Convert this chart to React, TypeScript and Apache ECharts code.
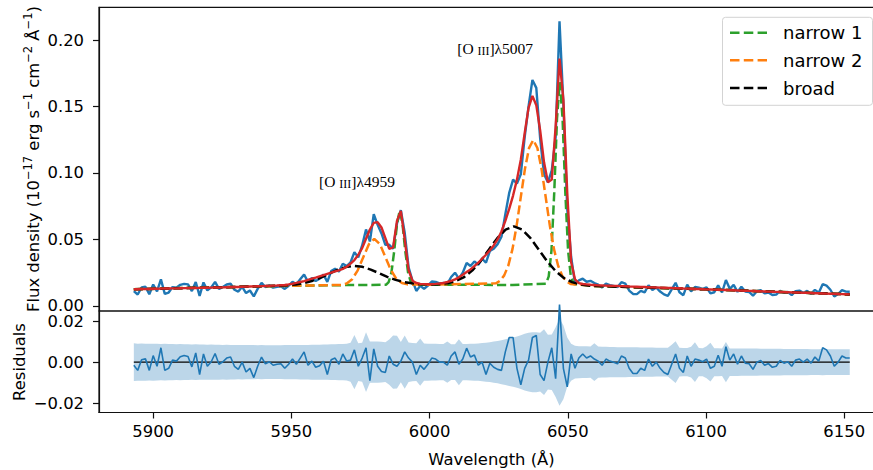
import React, { useEffect, useRef } from 'react';
import * as echarts from 'echarts';

// wavelength sampling grid (Å) of the spectrum
const wave: number[] = Array.from({ length: 186 }, (_, i) => Math.round((5893 + 1.4 * i) * 10) / 10);

// total model (red)
const model = [
  0.0126, 0.0126, 0.0127, 0.0128, 0.0128, 0.0129, 0.0129, 0.013, 0.0131, 0.0131,
  0.0132, 0.0132, 0.0133, 0.0134, 0.0134, 0.0135, 0.0135, 0.0136, 0.0137, 0.0137,
  0.0138, 0.0139, 0.0139, 0.014, 0.0141, 0.0142, 0.0142, 0.0143, 0.0144, 0.0145,
  0.0146, 0.0147, 0.0148, 0.0149, 0.015, 0.0151, 0.0153, 0.0154, 0.0156, 0.0158,
  0.0162, 0.0167, 0.0173, 0.018, 0.0187, 0.0196, 0.0205, 0.0213, 0.0223, 0.0232,
  0.0241, 0.025, 0.026, 0.0268, 0.0278, 0.0295, 0.0318, 0.0345, 0.0385, 0.0435,
  0.0505, 0.0575, 0.0625, 0.063, 0.059, 0.051, 0.043, 0.044, 0.064, 0.0715,
  0.05, 0.027, 0.019, 0.0173, 0.0166, 0.0164, 0.0163, 0.0164, 0.0166, 0.0169,
  0.0173, 0.018, 0.0188, 0.02, 0.0215, 0.0235, 0.0255, 0.0275, 0.03, 0.0325,
  0.0355, 0.0385, 0.0418, 0.0455, 0.05, 0.056, 0.064, 0.073, 0.083, 0.095,
  0.11, 0.13, 0.149, 0.158, 0.151, 0.132, 0.108, 0.093, 0.095, 0.135,
  0.186, 0.155, 0.085, 0.033, 0.02, 0.0172, 0.0165, 0.0162, 0.0159, 0.0157,
  0.0155, 0.0154, 0.0153, 0.0152, 0.0151, 0.015, 0.0149, 0.0148, 0.0146, 0.0145,
  0.0144, 0.0143, 0.0142, 0.0141, 0.014, 0.0139, 0.0138, 0.0137, 0.0136, 0.0135,
  0.0134, 0.0133, 0.0131, 0.013, 0.0129, 0.0128, 0.0127, 0.0126, 0.0125, 0.0124,
  0.0123, 0.0122, 0.0121, 0.012, 0.0119, 0.0118, 0.0116, 0.0115, 0.0114, 0.0113,
  0.0112, 0.0111, 0.011, 0.0109, 0.0108, 0.0107, 0.0106, 0.0105, 0.0104, 0.0103,
  0.0102, 0.0101, 0.01, 0.0099, 0.0098, 0.0097, 0.0096, 0.0095, 0.0094, 0.0093,
  0.0092, 0.0091, 0.009, 0.0089, 0.0088, 0.0087,
];

// residuals (data - model)
const residual = [
  -0.0015, -0.004, 0.0012, 0.0016, -0.004, 0.0032, -0.002, 0.007, -0.004, -0.003,
  0.001, 0.0005, 0.0026, 0.0032, 0.0028, -0.0023, 0.0045, -0.006, 0.004, -0.002,
  0.0002, 0.0042, -0.001, 0.0002, 0.002, 0.0025, -0.002, -0.0035, 0.0, -0.0048,
  -0.003, -0.0075, -0.002, 0.0025, -0.0008, 0.0002, -0.0015, -0.001, -0.0008, -0.003,
  -0.001, 0.0015, -0.001, 0.002, 0.005, -0.0015, 0.0005, -0.0025, -0.0018, 0.0005,
  -0.006, 0.0012, 0.002, -0.001, 0.004, 0.0005, 0.001, 0.006, -0.002, 0.002,
  0.007, -0.009, 0.0065, -0.002, -0.0045, -0.005, 0.003, -0.001, -0.002, 0.0005,
  0.005, 0.002, 0.0, -0.006, -0.0015, -0.0035, -0.001, 0.002, 0.0015, 0.0,
  0.0, -0.0015, 0.003, 0.005, -0.001, 0.0015, 0.0068, 0.0025, 0.0035, -0.0015,
  0.0, -0.006, -0.0005, -0.0025, -0.0035, -0.004, 0.005, 0.012, 0.012, -0.003,
  -0.011, -0.003, 0.001, 0.012, 0.013, -0.006, -0.009, 0.0, 0.007, -0.008,
  0.028, -0.003, -0.012, 0.004, -0.003, 0.002, 0.004, 0.002, 0.003, 0.0015,
  0.0005, -0.0015, 0.0015, 0.0005, 0.0, -0.0008, 0.003, 0.002, -0.003, -0.0055,
  -0.0055, -0.003, -0.004, 0.0015, -0.002, 0.0, -0.003, -0.005, -0.006, -0.001,
  0.004, -0.003, -0.005, 0.003, -0.002, 0.0015, 0.001, 0.0002, 0.0015, -0.003,
  -0.002, 0.0034, -0.002, 0.0075, 0.001, 0.004, -0.001, 0.003, -0.0005, -0.0008,
  -0.0035, 0.0, 0.0008, -0.0015, -0.0007, -0.0025, -0.002, 0.0008, -0.0005, 0.0002,
  -0.002, 0.001, 0.0015, 0.0, 0.0015, -0.0005, 0.0025, 0.0005, 0.007, 0.006,
  0.003, -0.002, 0.0, 0.003, 0.002, 0.002,
];

// 1-sigma flux error (shaded band)
const fluxErr = [
  0.0092, 0.009, 0.0091, 0.009, 0.0089, 0.009, 0.0089, 0.0088, 0.0089, 0.0088,
  0.0088, 0.0087, 0.0088, 0.0087, 0.0087, 0.0086, 0.0087, 0.0086, 0.0086, 0.0085,
  0.0086, 0.0085, 0.0085, 0.0084, 0.0085, 0.0084, 0.0084, 0.0083, 0.0084, 0.0083,
  0.0083, 0.0083, 0.0082, 0.0083, 0.0082, 0.0082, 0.0082, 0.0082, 0.0082, 0.0083,
  0.0083, 0.0083, 0.0083, 0.0084, 0.0084, 0.0084, 0.0085, 0.0085, 0.0085, 0.0086,
  0.0086, 0.0087, 0.0087, 0.0088, 0.0088, 0.0089, 0.0095, 0.0132, 0.0092, 0.0095,
  0.0145, 0.01, 0.01, 0.01, 0.0099, 0.0097, 0.011, 0.013, 0.0128, 0.0098,
  0.013, 0.0096, 0.0093, 0.0092, 0.0115, 0.0091, 0.009, 0.0089, 0.0089, 0.0088,
  0.0088, 0.01, 0.0087, 0.0087, 0.0112, 0.0088, 0.0088, 0.0089, 0.009, 0.0091,
  0.0093, 0.0095, 0.0097, 0.01, 0.0103, 0.0107, 0.0111, 0.0116, 0.012, 0.0125,
  0.0131, 0.0138, 0.0143, 0.0146, 0.0146, 0.0143, 0.016, 0.0133, 0.0135, 0.017,
  0.0212, 0.018, 0.012, 0.009, 0.008, 0.0078, 0.0077, 0.0077, 0.0076, 0.0092,
  0.0076, 0.0075, 0.0075, 0.0074, 0.0074, 0.0073, 0.0073, 0.0073, 0.0072, 0.0072,
  0.0072, 0.0071, 0.0071, 0.0071, 0.0071, 0.007, 0.007, 0.007, 0.007, 0.0085,
  0.0102, 0.007, 0.0069, 0.0069, 0.0075, 0.0097, 0.0069, 0.0068, 0.0078, 0.0094,
  0.0068, 0.0068, 0.0067, 0.0098, 0.0067, 0.0067, 0.0067, 0.0066, 0.0066, 0.0066,
  0.0066, 0.0066, 0.0065, 0.0065, 0.0065, 0.0065, 0.0065, 0.0065, 0.0064, 0.0064,
  0.0064, 0.0064, 0.0064, 0.0064, 0.0064, 0.0063, 0.0063, 0.0063, 0.0064, 0.0063,
  0.0063, 0.0063, 0.0063, 0.0063, 0.0063, 0.0063,
];

// fit components (continuum included), [wavelength, flux]
const narrow1: number[][] = [
  [5893, 0.0126], [5945, 0.015], [5970, 0.0157], [5984.2, 0.0159], [5985.2, 0.018], [5986.2, 0.0252],
  [5987.2, 0.0413], [5988.2, 0.0617], [5989.2, 0.0718], [5990.2, 0.0617], [5991.2, 0.0413], [5992.2, 0.0252],
  [5993.2, 0.018], [5994.2, 0.016], [6000, 0.016], [6030, 0.0158], [6042.1, 0.0167], [6043.1, 0.0222],
  [6044.1, 0.0418], [6045.1, 0.0856], [6046.1, 0.1413], [6047.1, 0.1684], [6048.1, 0.1413], [6049.1, 0.0855],
  [6050.1, 0.0417], [6051.1, 0.0221], [6052.1, 0.0165], [6060, 0.015], [6100, 0.0125], [6152, 0.0087],
];
const narrow2: number[][] = [
  [5893, 0.0126], [5945, 0.015], [5968, 0.0158], [5970, 0.0169], [5972, 0.0201], [5974, 0.0268], [5976, 0.0366],
  [5978, 0.0463], [5980, 0.0505], [5982, 0.0465], [5984, 0.0368], [5986, 0.027], [5988, 0.0203],
  [5990, 0.0172], [5992, 0.0162], [6000, 0.016], [6024, 0.017], [6025.5, 0.019], [6027, 0.023],
  [6028.5, 0.0305], [6030, 0.0429], [6031.5, 0.0606], [6033, 0.082], [6034.5, 0.1031], [6036, 0.1189],
  [6037.5, 0.1248], [6039, 0.1188], [6040.5, 0.103], [6042, 0.0819], [6043.5, 0.0604], [6045, 0.0427],
  [6046.5, 0.0302], [6048, 0.0226], [6049.5, 0.0186], [6051, 0.0165], [6060, 0.015], [6100, 0.0125], [6152, 0.0087],
];
const broad: number[][] = [
  [5893, 0.0126], [5920, 0.0138], [5945.7, 0.0152], [5948.7, 0.0155], [5951.7, 0.0162], [5954.7, 0.0173],
  [5957.7, 0.019], [5960.7, 0.0214], [5963.7, 0.0243], [5966.7, 0.0271], [5969.7, 0.0292], [5972.7, 0.0301],
  [5975.7, 0.0294], [5978.7, 0.0273], [5981.7, 0.0247], [5984.7, 0.0219], [5987.7, 0.0196], [5990.7, 0.018],
  [5993.7, 0.017], [5996.7, 0.0164], [5999.7, 0.0162], [6003.5, 0.0163], [6006.5, 0.0171], [6009.5, 0.0187],
  [6012.5, 0.0217], [6015.5, 0.0268], [6018.5, 0.0339], [6021.5, 0.0425], [6024.5, 0.051], [6027.5, 0.0574],
  [6030.5, 0.0598], [6033.5, 0.0574], [6036.5, 0.051], [6039.5, 0.0423], [6042.5, 0.0337], [6045.5, 0.0264],
  [6048.5, 0.0211], [6051.5, 0.0179], [6054.5, 0.0162], [6057.5, 0.0153], [6060, 0.015], [6100, 0.0125], [6152, 0.0087],
];

const xTicks = [5900, 5950, 6000, 6050, 6100, 6150];
const yTicksTop = [0, 0.05, 0.1, 0.15, 0.2];
const yTicksBottom = [-0.02, 0, 0.02];
const legendLabels = ['narrow 1', 'narrow 2', 'broad'];
const legendColors = ['#2ca02c', '#ff7f0e', '#000000'];
const lineLabels = [
  { ion: 'III', line: 'λ4959', x: 5960, y: 0.09 },
  { ion: 'III', line: 'λ5007', x: 6010, y: 0.19 },
];

const FONT = 'DejaVu Sans';
const DASH = [9.2, 4];
const BAND = '#bcd6e9';

export default function App() {
  const ref = useRef<HTMLDivElement>(null);
  useEffect(() => {
    const chart = echarts.init(ref.current!, null, { renderer: 'svg' });
    const flux = wave.map((w, i) => [w, Math.round((model[i] + residual[i]) * 1e5) / 1e5]);
    const fit = wave.map((w, i) => [w, model[i]]);
    const res = wave.map((w, i) => [w, residual[i]]);
    const upper = wave.map((w, i) => [w, fluxErr[i]]);
    const lower = wave.map((w, i) => [w, -fluxErr[i]]);
    const zero = [[wave[0], 0], [wave[wave.length - 1], 0]];

    const fmt2 = (v: number) => (v < -1e-9 ? '\u2212' + (-v).toFixed(2) : Math.abs(v).toFixed(2));
    const dashed = (name: string, data: number[][], color: string) => ({
      name, type: 'line', xAxisIndex: 0, yAxisIndex: 0, data, showSymbol: false, symbol: 'none', silent: true,
      lineStyle: { color, width: 2.5, type: DASH },
    });
    const bandHalf = (name: string, data: number[][]) => ({
      name, type: 'line', xAxisIndex: 1, yAxisIndex: 1, data, showSymbol: false, symbol: 'none', silent: true,
      lineStyle: { width: 0, opacity: 0 }, areaStyle: { color: BAND, opacity: 1, origin: 0 },
    });

    const xAxisBase = { type: 'value', min: 5880.4, max: 6164.5, splitLine: { show: false } };
    const option: any = {
      animation: false,
      backgroundColor: '#ffffff',
      textStyle: { fontFamily: FONT },
      grid: [
        { left: 99, top: 7.3, width: 785.3, height: 303.7, show: true, borderColor: '#111', borderWidth: 1.2, backgroundColor: 'transparent', outerBoundsMode: 'none' },
        { left: 99, top: 311, width: 785.3, height: 101.5, show: true, borderColor: '#111', borderWidth: 1.2, backgroundColor: 'transparent', outerBoundsMode: 'none' },
      ],
      xAxis: [
        { ...xAxisBase, gridIndex: 0, axisLine: { show: false, onZero: false }, axisTick: { show: false }, axisLabel: { show: false } },
        {
          ...xAxisBase, gridIndex: 1,
          axisLine: { show: true, onZero: false, lineStyle: { color: '#111', width: 1.2 } },
          axisTick: { show: true, length: 6, customValues: xTicks, lineStyle: { color: '#111', width: 1.2 } },
          axisLabel: { show: true, customValues: xTicks, margin: 11, fontSize: 16.4, fontFamily: FONT, color: '#000', formatter: (v: number) => String(Math.round(v)) },
        },
      ],
      yAxis: [
        {
          type: 'value', gridIndex: 0, min: -0.0038, max: 0.2246, splitLine: { show: false },
          axisLine: { show: true, onZero: false, lineStyle: { color: '#111', width: 1.2 } },
          axisTick: { show: true, length: 6, customValues: yTicksTop, lineStyle: { color: '#111', width: 1.2 } },
          axisLabel: { show: true, customValues: yTicksTop, margin: 15, fontSize: 16.4, fontFamily: FONT, color: '#000', formatter: fmt2 },
        },
        {
          type: 'value', gridIndex: 1, min: -0.0245, max: 0.0249, splitLine: { show: false },
          axisLine: { show: true, onZero: false, lineStyle: { color: '#111', width: 1.2 } },
          axisTick: { show: true, length: 6, customValues: yTicksBottom, lineStyle: { color: '#111', width: 1.2 } },
          axisLabel: { show: true, customValues: yTicksBottom, margin: 15, fontSize: 16.4, fontFamily: FONT, color: '#000', formatter: fmt2 },
        },
      ],
      series: [
        { name: 'data', type: 'line', xAxisIndex: 0, yAxisIndex: 0, data: flux, showSymbol: false, symbol: 'none', silent: true, lineStyle: { color: '#1f77b4', width: 2.4 } },
        dashed(legendLabels[0], narrow1, legendColors[0]),
        dashed(legendLabels[1], narrow2, legendColors[1]),
        dashed(legendLabels[2], broad, legendColors[2]),
        { name: 'model', type: 'line', xAxisIndex: 0, yAxisIndex: 0, data: fit, showSymbol: false, symbol: 'none', silent: true, lineStyle: { color: '#d62728', width: 2.4 } },
        bandHalf('err+', upper),
        bandHalf('err-', lower),
        { name: 'zero', type: 'line', xAxisIndex: 1, yAxisIndex: 1, data: zero, showSymbol: false, symbol: 'none', silent: true, lineStyle: { color: '#000', width: 1.2 } },
        { name: 'residual', type: 'line', xAxisIndex: 1, yAxisIndex: 1, data: res, clip: false, showSymbol: false, symbol: 'none', silent: true, lineStyle: { color: '#1f77b4', width: 1.6 } },
      ],
    };
    chart.setOption(option);

    const elements: any[] = [];
    // legend
    elements.push({ type: 'rect', z: 100, shape: { x: 722.5, y: 17.3, width: 150, height: 88, r: 3 }, style: { fill: 'rgba(255,255,255,0.8)', stroke: '#d3d3d3', lineWidth: 1 } });
    const rowsY = [32.7, 60.2, 88];
    legendLabels.forEach((lab, k) => {
      elements.push({ type: 'line', z: 101, shape: { x1: 730, y1: rowsY[k], x2: 767, y2: rowsY[k] }, style: { stroke: legendColors[k], lineWidth: 2.5, lineDash: [9.5, 4.3] } });
      elements.push({ type: 'text', z: 101, x: 783, y: rowsY[k], style: { text: lab, fontSize: 18, fontFamily: FONT, fill: '#000', align: 'left', verticalAlign: 'middle' } });
    });
    // axis titles
    elements.push({
      type: 'text', z: 50, x: 31.5, y: 159, rotation: Math.PI / 2,
      style: {
        text: '{n|Flux density (10}{s|\u221217}{n| erg s}{s|\u22121}{n| cm}{s|\u22122}{n| \u00c5}{s|\u22121}{n|)}',
        align: 'center', verticalAlign: 'middle',
        rich: {
          n: { fontSize: 16.4, fontFamily: FONT, fill: '#000', lineHeight: 20, verticalAlign: 'bottom' },
          s: { fontSize: 11.5, fontFamily: FONT, fill: '#000', lineHeight: 14, verticalAlign: 'top' },
        },
      },
    });
    elements.push({ type: 'text', z: 50, x: 19.5, y: 362, rotation: Math.PI / 2, style: { text: 'Residuals', fontSize: 16.4, fontFamily: FONT, fill: '#000', align: 'center', verticalAlign: 'middle' } });
    elements.push({ type: 'text', z: 50, x: 491.5, y: 459, style: { text: 'Wavelength (\u00c5)', fontSize: 16.4, fontFamily: FONT, fill: '#000', align: 'center', verticalAlign: 'middle' } });
    // line annotations placed in data coordinates
    lineLabels.forEach((l) => {
      const p = chart.convertToPixel({ gridIndex: 0 } as any, [l.x, l.y]) as number[];
      elements.push({
        type: 'text', z: 60, x: p[0], y: p[1] + 3.5,
        style: {
          text: `{n|[O }{s|${l.ion}}{n|]${l.line}}`,
          align: 'left', verticalAlign: 'bottom',
          rich: {
            n: { fontSize: 15.5, fontFamily: 'Liberation Serif', fill: '#000', verticalAlign: 'bottom' },
            s: { fontSize: 12, fontFamily: 'Liberation Serif', fill: '#000', verticalAlign: 'bottom' },
          },
        },
      });
    });
    chart.setOption({ graphic: { elements } });

    return () => chart.dispose();
  }, []);

  return (
    <div style={{ position: 'fixed', left: 0, top: 0, width: 873, height: 470, overflow: 'hidden', background: '#fff' }}>
      <div ref={ref} style={{ width: 900, height: 470 }} />
    </div>
  );
}
